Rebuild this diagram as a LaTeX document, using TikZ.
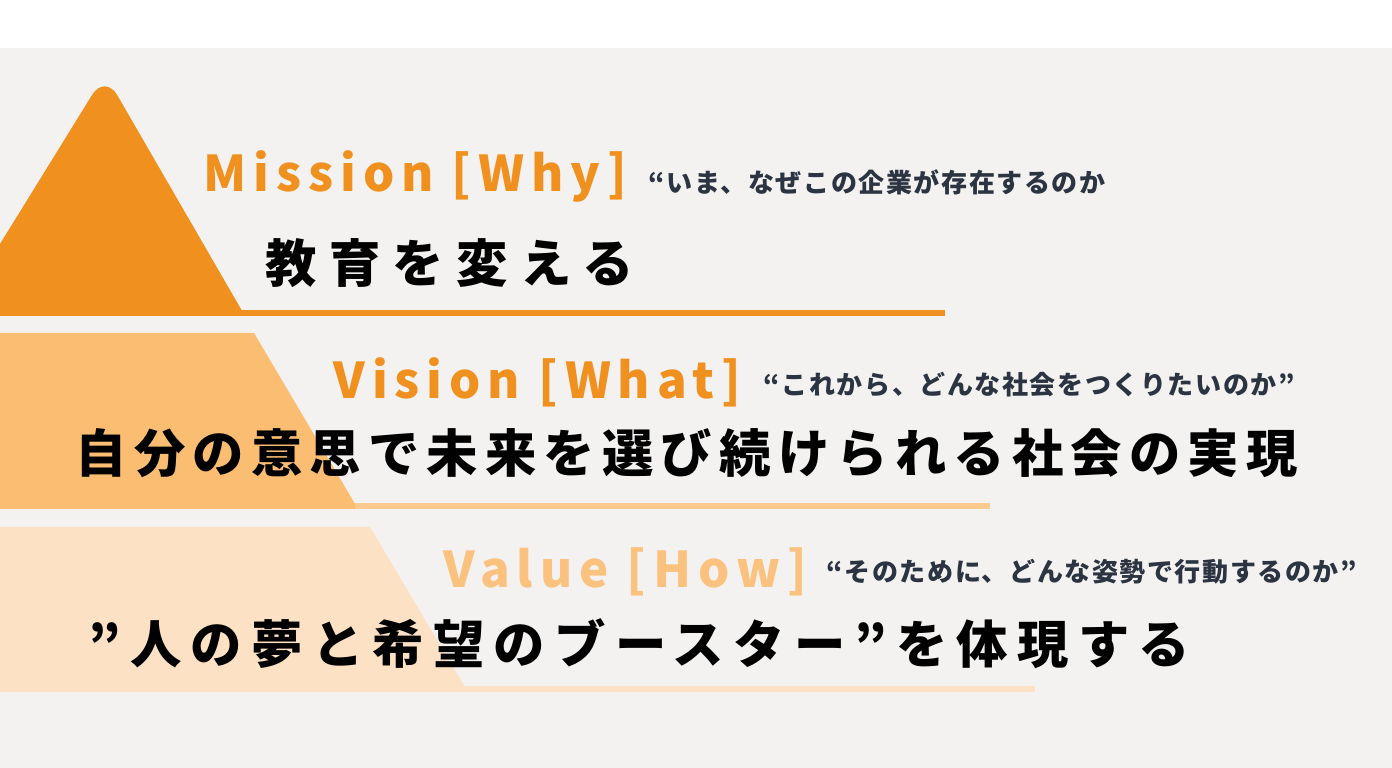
\documentclass[tikz,border=0pt]{standalone}
\usepackage{fontspec}
\setmainfont{Noto Sans CJK JP}
\newfontfamily\headfont[LetterSpace=14]{Noto Sans CJK JP}
\newfontfamily\bigfont[LetterSpace=14]{Noto Sans CJK JP}
\newfontfamily\quotefont[LetterSpace=6]{Noto Sans CJK JP}

\definecolor{bggray}{HTML}{F3F2F1}
\definecolor{missioncol}{HTML}{F0901E}
\definecolor{visioncol}{HTML}{FBBD72}
\definecolor{visionline}{HTML}{FCC98E}
\definecolor{valuecol}{HTML}{FDE1C4}
\definecolor{valuetext}{HTML}{FAC27E}
\definecolor{quotecol}{HTML}{2B3440}

\tikzset{
  head/.style={font=\headfont\bfseries\fontsize{14}{14}\selectfont, inner sep=0pt, anchor=base west},
  quote/.style={font=\quotefont\bfseries\fontsize{7.4}{8}\selectfont, text=quotecol, inner sep=0pt, anchor=west},
  statement/.style={font=\bigfont\bfseries\fontsize{14.6}{15}\selectfont, text=black, inner sep=0pt, anchor=west},
  wide/.style={font=\bigfont\bfseries\fontsize{14.6}{15}\selectfont\addfontfeature{LetterSpace=#1}}
}

\begin{document}
\begin{tikzpicture}[x=0.01cm,y=-0.01cm]
\useasboundingbox (0,0) rectangle (1392,768);
\fill[white] (0,0) rectangle (1392,48);
\fill[bggray] (0,48) rectangle (1392,768);

% pyramid
\fill[missioncol] (0,244) [rounded corners=7] -- (105,74) [sharp corners] -- (245,316) -- (0,316) -- cycle;
\fill[missioncol] (240,310) rectangle (945,316);
\fill[visioncol] (0,333) -- (254,333) -- (358,509) -- (0,509) -- cycle;
\fill[visionline] (355,503) rectangle (990,509);
\fill[valuecol] (0,527) -- (370,527) -- (468,692) -- (0,692) -- cycle;
\fill[valuecol] (465,686) rectangle (1035,692);

% Mission
\node[head, text=missioncol] (mission) at (203,192) {Mission [Why]};
\node[quote] (missionq) at (648,182) {“いま、なぜこの企業が存在するのか};
\node[statement, wide=24] (missiontext) at (265,263) {教育を変える};

% Vision
\node[head, text=missioncol] (vision) at (333,399) {Vision [What]};
\node[quote] (visionq) at (763,385) {“これから、どんな社会をつくりたいのか”};
\node[statement] (visiontext) at (75,453) {自分の意思で未来を選び続けられる社会の実現};

% Value
\node[head, text=valuetext] (value) at (443,588) {Value [How]};
\node[quote] (valueq) at (826,572) {“そのために、どんな姿勢で行動するのか”};
\node[statement, wide=18] (valuetext) at (88,644) {”人の夢と希望のブースター”を体現する};
\end{tikzpicture}
\end{document}
